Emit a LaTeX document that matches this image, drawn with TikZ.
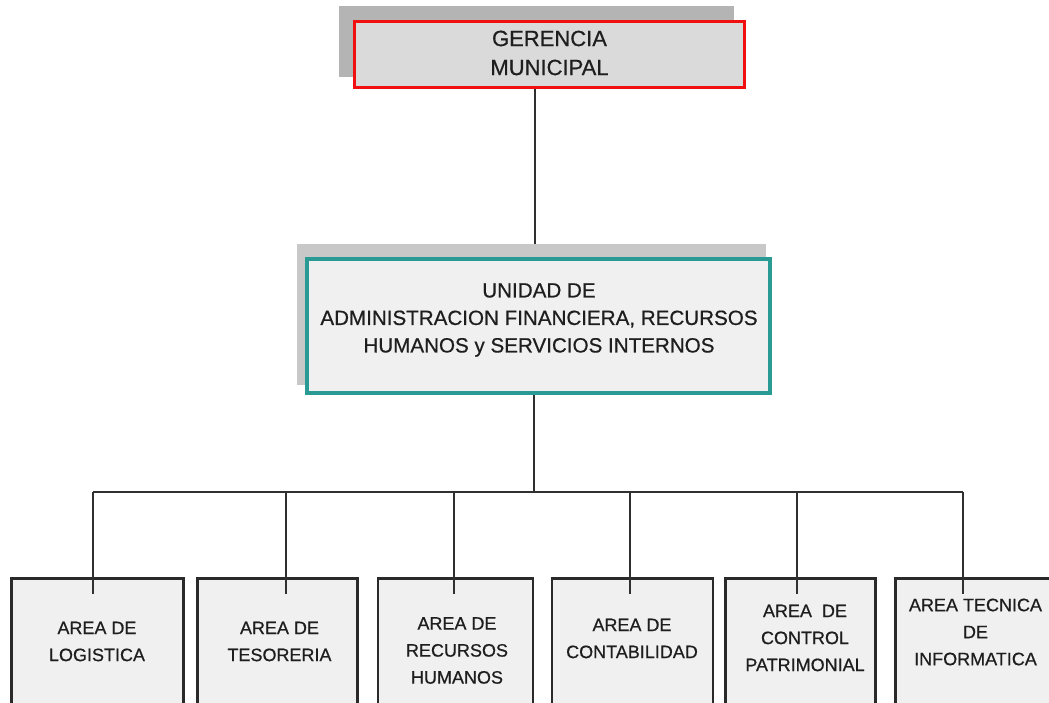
\documentclass[tikz,border=0pt]{standalone}
\usepackage{fontspec}
\setmainfont{Liberation Sans}[FakeBold=0.6]
\definecolor{txt}{HTML}{1E1E1E}
\definecolor{gerfill}{HTML}{DADADA}
\definecolor{gershadow}{HTML}{B4B4B4}
\definecolor{unifill}{HTML}{F0F0F0}
\definecolor{unishadow}{HTML}{C8C8C8}
\definecolor{teal2}{HTML}{2A9A94}
\definecolor{redline}{HTML}{F01010}
\definecolor{boxline}{HTML}{2A2A2A}
\definecolor{conn}{HTML}{303030}
\begin{document}
\begin{tikzpicture}[x=1pt,y=-1pt,
  shadowbox/.style={draw=none,inner sep=0pt,outer sep=0pt,anchor=north west},
  mainbox/.style={inner sep=0pt,outer sep=0pt,anchor=north west},
  areabox/.style={draw=boxline,fill=unifill,line width=2.6pt,inner sep=0pt,outer sep=0pt,anchor=north west,minimum height=150pt},
  toptext/.style={text=txt,align=center,font=\fontsize{22}{29}\selectfont},
  unitext/.style={text=txt,align=center,font=\fontsize{20.6}{27.5}\selectfont},
  areatext/.style={text=txt,align=center,font=\fontsize{18}{27}\selectfont},
  link/.style={draw=conn,line width=1.8pt}]
\useasboundingbox[fill=white] (0,0) rectangle (1049,702);
% connectors behind boxes
\coordinate (g1) at (535,88);
\coordinate (g2) at (535,257);
\draw[link] (g1) -- (g2);
% Gerencia
\node[shadowbox,fill=gershadow,minimum width=395pt,minimum height=71pt] (gershadow) at (339,6) {};
\node[mainbox,draw=redline,fill=gerfill,line width=3pt,minimum width=390pt,minimum height=66pt] (ger) at (354.5,21.5) {};
\node[toptext] (gertext) at (549.5,53) {GERENCIA\\MUNICIPAL};
% Unidad
\node[shadowbox,fill=unishadow,minimum width=469pt,minimum height=141pt] (unishadow) at (297,244) {};
\node[mainbox,draw=teal2,fill=unifill,line width=3.5pt,minimum width=463pt,minimum height=134pt] (uni) at (307,259) {};
\node[unitext] (unitext) at (539,320) {UNIDAD DE\\ADMINISTRACION FINANCIERA, RECURSOS\\HUMANOS y SERVICIOS INTERNOS};
% bar
\coordinate (u1) at (534,395);
\coordinate (hub) at (534,492);
\coordinate (j1) at (93,492);
\coordinate (j2) at (286,492);
\coordinate (j3) at (454,492);
\coordinate (j4) at (630,492);
\coordinate (j5) at (797,492);
\coordinate (j6) at (963,492);
\draw[link] (u1) -- (hub);
\draw[link] (j1) -- (j6);
% area boxes
\node[areabox,minimum width=172pt] (b1) at (11.5,578.5) {};
\node[areabox,minimum width=160pt] (b2) at (197.5,578.5) {};
\node[areabox,minimum width=155pt] (b3) at (378,578.5) {};
\node[areabox,minimum width=161pt] (b4) at (552,578.5) {};
\node[areabox,minimum width=150pt] (b5) at (725.5,578.5) {};
\node[areabox,minimum width=170pt] (b6) at (895.5,578.5) {};
\foreach \i/\x in {1/93,2/286,3/454,4/630,5/797,6/963}{
  \coordinate (e\i) at (\x,594);
  \draw[link] (j\i) -- (e\i);
}
\node[areatext] (t1) at (97,641.5) {AREA DE\\LOGISTICA};
\node[areatext] (t2) at (279.5,641.5) {AREA DE\\TESORERIA};
\node[areatext] (t3) at (457,650.5) {AREA DE\\RECURSOS\\HUMANOS};
\node[areatext] (t4) at (632,638.5) {AREA DE\\CONTABILIDAD};
\node[areatext] (t5) at (805,638) {AREA\ \ DE\\CONTROL\\PATRIMONIAL};
\node[areatext] (t6) at (975.5,632) {AREA TECNICA\\DE\\INFORMATICA};
\end{tikzpicture}
\end{document}
